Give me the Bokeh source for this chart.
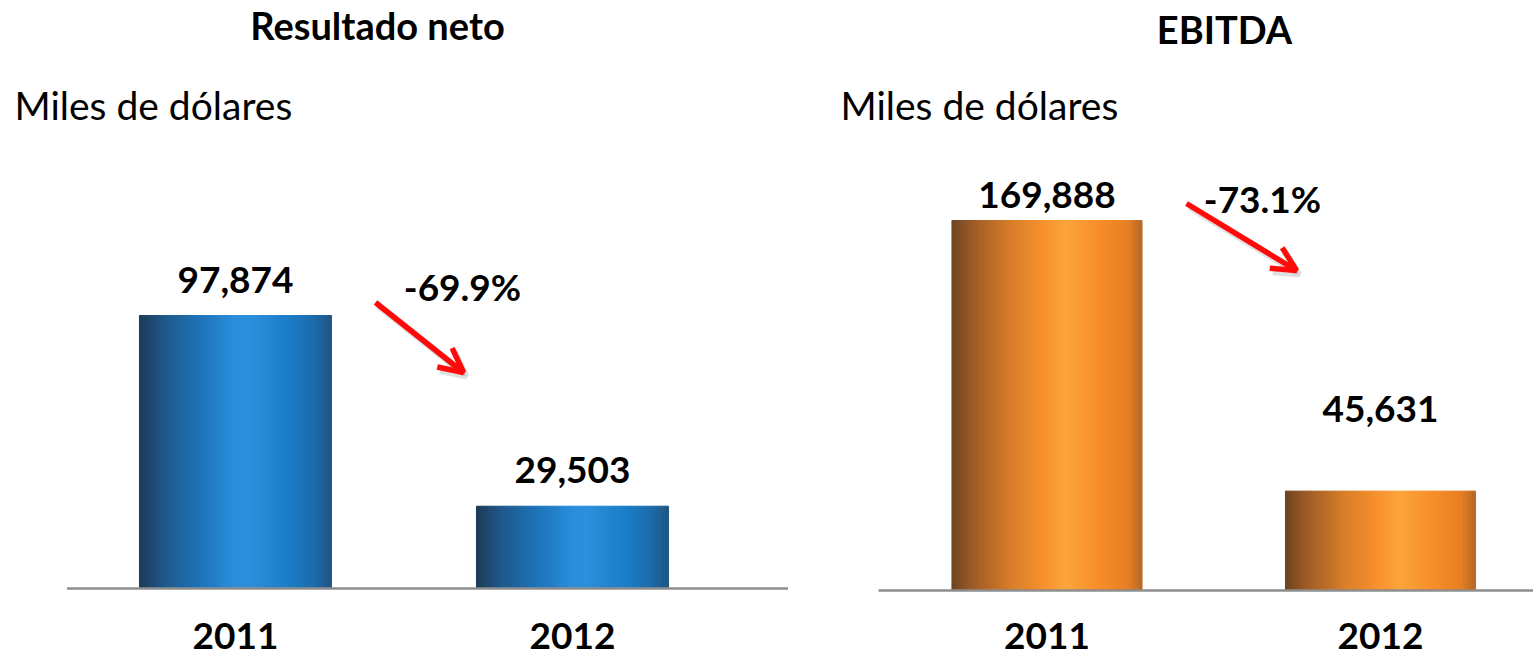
from bokeh.plotting import figure
from bokeh.models import Range1d, Label, Arrow, OpenHead, ColumnDataSource
from bokeh.layouts import row
from bokeh.embed import file_html
from bokeh.resources import INLINE

# ---------------- data ----------------
years = ["2011", "2012"]
resultado_neto = [97874, 29503]
ebitda = [169888, 45631]
cambio_neto = "-69.9%"
cambio_ebitda = "-73.1%"
titulo_neto = "Resultado neto"
titulo_ebitda = "EBITDA"
unidad = "Miles de dólares"

# ---------------- styles ----------------
FONT = "Lato"
H = 659
DY = 14  # text baseline correction (pixels)
blue_stops = [(0.0, "#1d3a57"), (0.12, "#1f5686"), (0.30, "#1e72b6"), (0.50, "#2a8ddb"),
              (0.58, "#2b90dc"), (0.78, "#1b7dc8"), (0.92, "#1c6aa8"), (1.0, "#1f5582")]
orange_stops = [(0.0, "#6b4422"), (0.10, "#995825"), (0.30, "#d57c29"), (0.48, "#f6902d"),
                (0.60, "#fba43b"), (0.80, "#f68b27"), (0.93, "#e57f22"), (1.0, "#b56826")]


def interp(stops, t):
    for (p0, c0), (p1, c1) in zip(stops[:-1], stops[1:]):
        if p0 <= t <= p1:
            f = (t - p0) / (p1 - p0) if p1 > p0 else 0
            a = [int(c0[i:i + 2], 16) for i in (1, 3, 5)]
            b = [int(c1[i:i + 2], 16) for i in (1, 3, 5)]
            return "#%02x%02x%02x" % tuple(round(a[j] + (b[j] - a[j]) * f) for j in range(3))
    return stops[-1][1]


def panel(values, title, change, stops, fig_left, width, x0_px, unit_px, base_px, upp,
          title_c, title_base, unit_left, label_gaps, change_c, change_base, arrow_pts,
          base_start_x):
    # helpers to convert picture pixels into data units
    X = lambda px: (px - x0_px) / unit_px
    Y = lambda py: (base_px - py) * upp
    p = figure(width=width, height=H, output_backend="svg", toolbar_location=None,
               x_range=Range1d(X(fig_left), X(fig_left + width)),
               y_range=Range1d(Y(H), Y(0)),
               min_border=0, min_border_left=0, min_border_right=0,
               min_border_top=0, min_border_bottom=0)
    p.axis.visible = False
    p.grid.visible = False
    p.outline_line_color = None
    p.background_fill_color = "white"
    p.border_fill_color = "white"

    # gradient bars
    bw = 0.57
    N = 64
    xs, tops, cols = [], [], []
    for i, v in enumerate(values):
        for k in range(N):
            t = (k + 0.5) / N
            xs.append(i - bw / 2 + t * bw)
            tops.append(v)
            cols.append(interp(stops, t))
    src = ColumnDataSource(dict(x=xs, top=tops, c=cols))
    p.vbar(x="x", top="top", bottom=0, width=bw / N, fill_color="c", line_color="c",
           line_width=1, source=src)

    # baseline
    p.line(x=[base_start_x, X(fig_left + width)], y=[0, 0], line_color="#8e8e8e", line_width=2.5)

    def txt(x, y, text, size, bold=True, align="center"):
        p.add_layout(Label(x=x, y=y, text=text, text_align=align, text_baseline="alphabetic",
                           text_font=FONT, text_font_style="bold" if bold else "normal",
                           text_font_size=size, text_color="black"))

    # value labels and categories
    for i, v in enumerate(values):
        txt(i, v + (label_gaps[i] + DY) * upp, f"{v:,}", "37px")
        txt(i, Y(649 - DY), years[i], "37px")

    # titles
    txt(X(title_c), Y(title_base - DY), title, "38px")
    txt(X(unit_left), Y(118 - DY), unidad, "39px", bold=False, align="left")
    txt(X(change_c), Y(change_base - DY), change, "37px")

    # arrow with soft shadow
    (sx, sy), (ex, ey) = arrow_pts
    p.add_layout(Arrow(x_start=X(sx + 3), y_start=Y(sy + 4), x_end=X(ex + 3), y_end=Y(ey + 4),
                       line_color="#000000", line_alpha=0.12, line_width=6,
                       end=OpenHead(line_color="#000000", line_alpha=0.12, line_width=6, size=24)))
    p.add_layout(Arrow(x_start=X(sx), y_start=Y(sy), x_end=X(ex), y_end=Y(ey),
                       line_color="#ff0a0a", line_width=5.5,
                       end=OpenHead(line_color="#ff0a0a", line_width=5.5, size=24)))
    return p


p1 = panel(resultado_neto, titulo_neto, cambio_neto, blue_stops,
           fig_left=0, width=788, x0_px=235, unit_px=337, base_px=588,
           upp=resultado_neto[0] / 273.0, title_c=377, title_base=38, unit_left=14,
           label_gaps=[22, 22], change_c=462, change_base=300,
           arrow_pts=((375, 302), (463, 372)), base_start_x=-0.5)
p2 = panel(ebitda, titulo_ebitda, cambio_ebitda, orange_stops,
           fig_left=788, width=745, x0_px=1046.5, unit_px=333.5, base_px=590,
           upp=ebitda[0] / 370.0, title_c=1224, title_base=42, unit_left=840,
           label_gaps=[12, 68], change_c=1262, change_base=212,
           arrow_pts=((1186, 203), (1296, 270)), base_start_x=-0.505)

layout = row(p1, p2)
open("out.html", "w").write(file_html(layout, INLINE))
